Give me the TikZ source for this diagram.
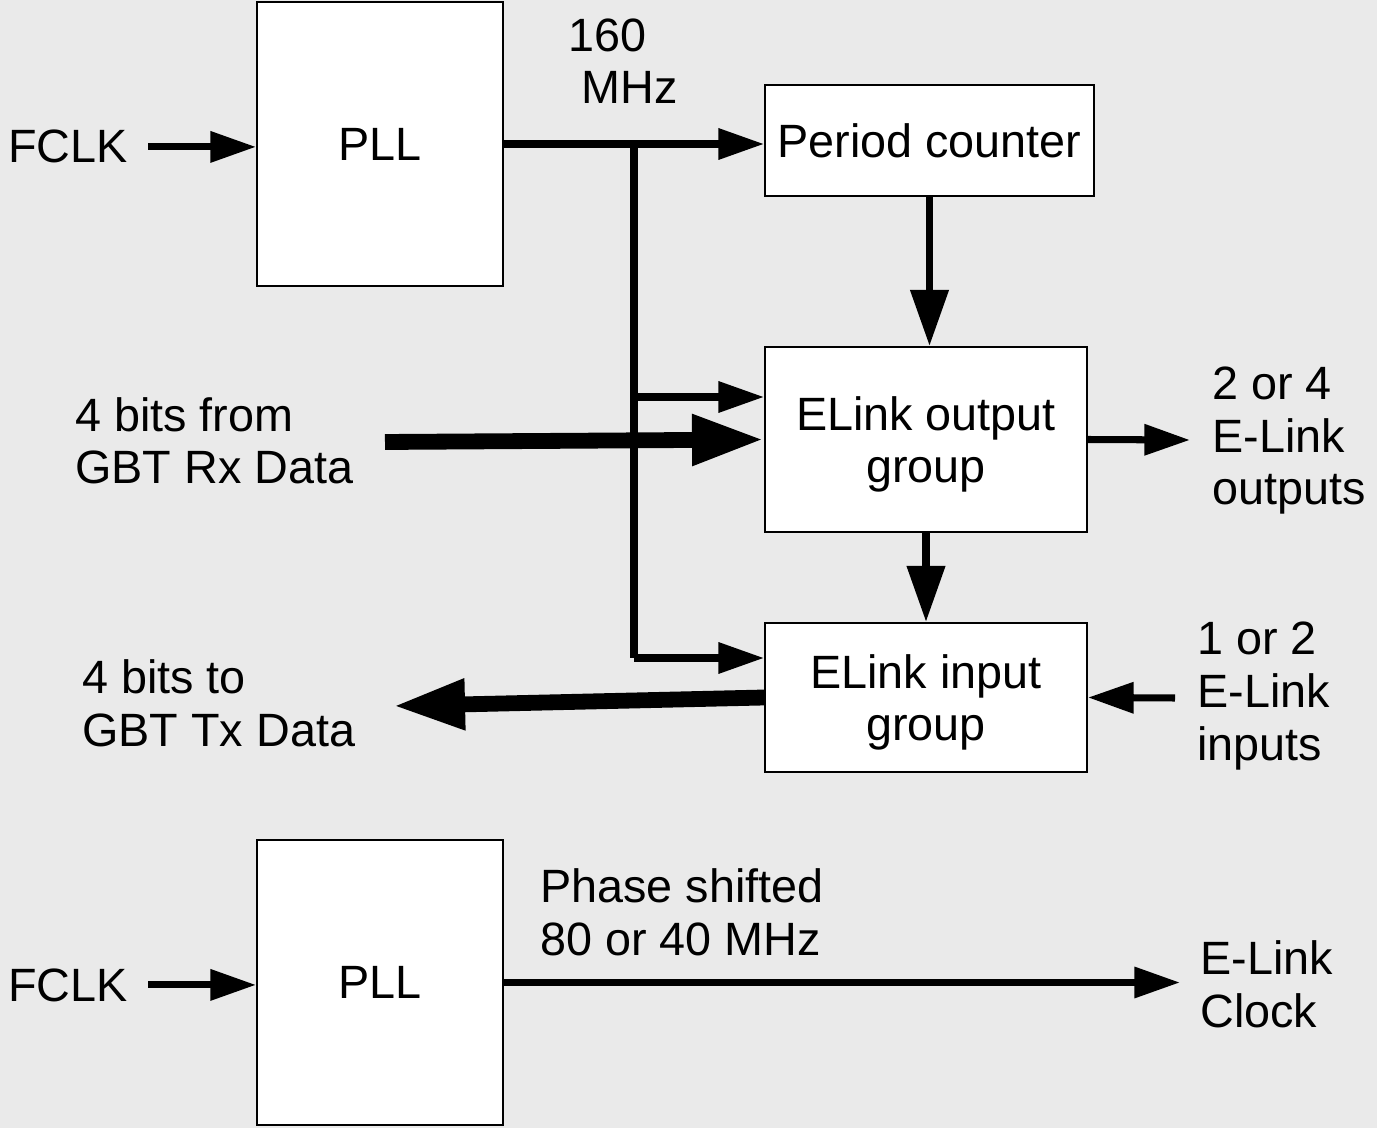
\documentclass[tikz,border=0pt]{standalone}
\usepackage{fontspec}
\setmainfont{Liberation Sans}
\usetikzlibrary{arrows.meta}
\definecolor{bgc}{RGB}{234,234,234}
\begin{document}
\begin{tikzpicture}[x=0.02cm,y=-0.02cm,
  font=\fontsize{26.6pt}{30pt}\selectfont,
  box/.style={draw=black, line width=1.1pt, fill=white, inner sep=0pt, align=center},
  lbl/.style={inner sep=0pt, anchor=base west, align=left},
  clk/.style={line width=4pt, -{Triangle[length=26pt,width=17pt]}},
  clkline/.style={line width=4pt},
  downarr/.style={line width=4.5pt, -{Triangle[length=32pt,width=21pt]}},
  bus/.style={line width=9pt, -{Triangle[length=41pt,width=27pt]}}]
\fill[bgc] (0,0) rectangle (1377,1128);
\useasboundingbox (0,0) rectangle (1377,1128);
% boxes
\node[box, minimum width=4.92cm, minimum height=5.68cm] (pll1) at (380,144) {PLL};
\node[box, minimum width=6.58cm, minimum height=2.22cm] (pc) at (929.5,140.5) {Period counter};
\node[box, minimum width=6.44cm, minimum height=3.7cm, text depth=0pt] (eout) at (926,439.5) {ELink output\\group};
\node[box, minimum width=6.44cm, minimum height=2.98cm, text depth=0pt] (ein) at (926,697.5) {ELink input\\group};
\node[box, minimum width=4.92cm, minimum height=5.7cm] (pll2) at (380,982.5) {PLL};
% labels (base = last line's baseline)
\node[lbl] (fclk1) at (8,163) {FCLK};
\node[lbl] (fclk2) at (8,1001) {FCLK};
\node[lbl] (f160) at (568,104) {160\\~MHz};
\node[lbl] (rxl) at (75,484) {4 bits from\\GBT Rx Data};
\node[lbl] (txl) at (82,746) {4 bits to\\GBT Tx Data};
\node[lbl] (outl) at (1212,505) {2 or 4\\E-Link\\outputs};
\node[lbl] (inl) at (1197,760) {1 or 2\\E-Link\\inputs};
\node[lbl] (phl) at (540,955) {Phase shifted\\80 or 40 MHz};
\node[lbl] (ckl) at (1200,1027) {E-Link\\Clock};
% coordinates
\coordinate (j1) at (634,144);
\coordinate (jout) at (634,397);
\coordinate (jin) at (634,658);
\coordinate (rx) at (385,442);
\coordinate (tx) at (393,706);
\coordinate (oute) at (1190,440);
\coordinate (ine) at (1175,698);
\coordinate (clkout) at (1180,982.5);
% connectors
\draw[clk] ([xshift=0.4cm]fclk1.east) -- (fclk1.east -| pll1.west);
\draw[clk] ([xshift=0.4cm]fclk2.east) -- (fclk2.east -| pll2.west);
\draw[clk] (pll1.east) -- (pll1.east -| pc.west);
\draw[clkline] (j1) -- (jin);
\draw[clk] (jout) -- (jout -| eout.west);
\draw[clk] (jin) -- (jin -| ein.west);
\draw[downarr] (pc.south) -- (pc.south |- eout.north);
\draw[downarr] (eout.south) -- (ein.north);
\draw[bus] (rx) -- (eout.west);
\draw[bus] (ein.west) -- (tx);
\draw[clk] (eout.east) -- (oute);
\draw[clk] (ine) -- (ein.east);
\draw[clk] (pll2.east) -- (clkout);
\end{tikzpicture}
\end{document}
